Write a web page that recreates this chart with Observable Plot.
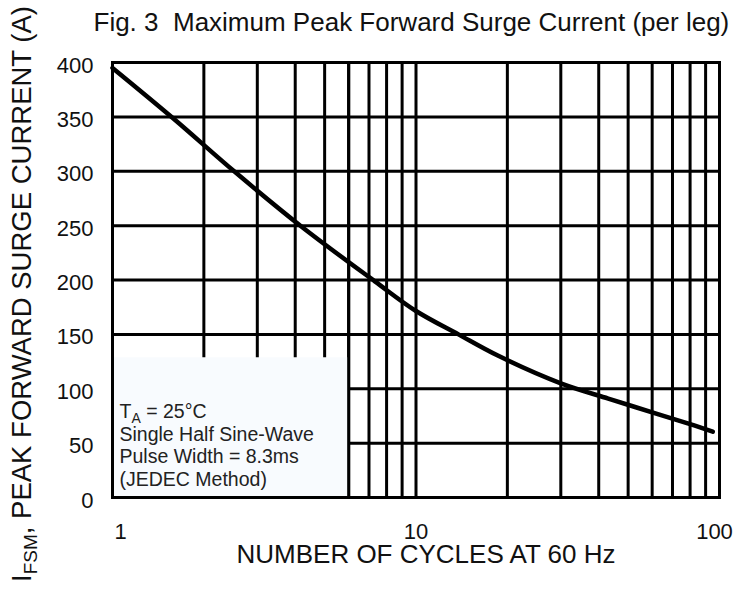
<!DOCTYPE html>
<html>
<head>
<meta charset="utf-8">
<script src="https://cdn.jsdelivr.net/npm/d3@7"></script>
<script src="https://cdn.jsdelivr.net/npm/@observablehq/plot@0.6"></script>
<style>
  html, body { margin: 0; padding: 0; background: #fff; }
  #chart svg { display: block; }
</style>
</head>
<body>
<div id="chart"></div>
<script>
// ---- data ----
const cycles  = [1, 1.58, 2.54, 4.2, 7.3, 10, 13.8, 18.6, 30, 43, 53, 63, 73, 83, 95];
const current = [395, 349, 299, 249, 199, 171.5, 150, 130.5, 105, 91, 83, 76.5, 71, 66, 60.5];

const xGrid = [1, 2, 3, 4, 5, 6, 7, 8, 9, 10, 20, 30, 40, 50, 60, 70, 80, 90, 100];
const yTicks = [0, 50, 100, 150, 200, 250, 300, 350, 400];
const xTickFirst = [1];
const xTickMid = [10];
const xTickLast = [100];

const titleText = "Fig. 3\u00a0\u00a0Maximum Peak Forward Surge Current (per leg)";
const yLabelText = "IFSM, PEAK FORWARD SURGE CURRENT (A)";
const xLabelText = "NUMBER OF CYCLES AT 60 Hz";
const legendLines = ["TA = 25\u00b0C", "Single Half Sine-Wave", "Pulse Width = 8.3ms", "(JEDEC Method)"];
const legendBox = [{x1: 1, x2: 6, y1: 0, y2: 128.5}];

const data = cycles.map((c, i) => ({c, v: current[i]}));
const font = "'Liberation Sans', Arial, Helvetica, sans-serif";

const chart = Plot.plot({
  width: 733,
  height: 590,
  marginLeft: 112,
  marginRight: 14,
  marginTop: 62,
  marginBottom: 93,
  style: {fontFamily: font, fontSize: "22px", color: "#111", background: "#fff"},
  x: {type: "log", domain: [1, 100]},
  y: {domain: [0, 400]},
  marks: [
    Plot.ruleX(xGrid, {stroke: "#000", strokeWidth: 3}),
    Plot.ruleY(yTicks, {stroke: "#000", strokeWidth: 3}),
    Plot.rect(legendBox, {x1: "x1", x2: "x2", y1: "y1", y2: "y2", fill: "#f8fbfe"}),
    Plot.ruleX([6], {stroke: "#000", strokeWidth: 3}),
    Plot.frame({stroke: "#000", strokeWidth: 3}),
    Plot.line(data, {x: "c", y: "v", stroke: "#000", strokeWidth: 4.5, curve: "catmull-rom"}),
    Plot.axisY(yTicks, {tickSize: 0, tickPadding: 19, dy: 3, label: null, fontSize: 22}),
    Plot.axisX(xTickFirst, {tickSize: 0, tickPadding: 26, dx: 8, label: null, tickFormat: d => String(d), fontSize: 22}),
    Plot.axisX(xTickMid, {tickSize: 0, tickPadding: 26, label: null, tickFormat: d => String(d), fontSize: 22}),
    Plot.axisX(xTickLast, {tickSize: 0, tickPadding: 26, dx: -5, label: null, tickFormat: d => String(d), fontSize: 22}),
    Plot.text([titleText], {frameAnchor: "top-left", dx: -19, dy: -40, textAnchor: "start", lineAnchor: "middle", fontSize: 26, fill: "#111"}),
    Plot.text([xLabelText], {frameAnchor: "bottom", dx: 10, dy: 57, textAnchor: "middle", lineAnchor: "middle", fontSize: 26, fill: "#111"}),
    Plot.text([yLabelText], {frameAnchor: "left", dx: -90, dy: 14, rotate: -90, textAnchor: "middle", lineAnchor: "middle", fontSize: 27.5, fill: "#111"}),
    Plot.text([legendLines.join("\n")], {frameAnchor: "bottom-left", dx: 7, dy: -96, textAnchor: "start", lineAnchor: "top", lineHeight: 1.17, fontSize: 19.5, fill: "#222"})
  ]
});

document.getElementById("chart").appendChild(chart);

// subscripts: I_FSM and T_A
const svg = d3.select(chart);
svg.selectAll("text").each(function() {
  const t = d3.select(this);
  if (this.textContent === yLabelText) {
    t.text(null);
    t.append("tspan").text("I");
    t.append("tspan").attr("dy", 6).attr("font-size", 19).text("FSM");
    t.append("tspan").attr("dy", -6).text(", PEAK FORWARD SURGE CURRENT (A)");
  }
});
svg.selectAll("tspan").each(function() {
  if (this.textContent === legendLines[0]) {
    const t = d3.select(this);
    t.text(null);
    t.append("tspan").text("T");
    t.append("tspan").attr("dy", 5).attr("font-size", 14).text("A");
    t.append("tspan").attr("dy", -5).text(" = 25\u00b0C");
  }
});
</script>
</body>
</html>
